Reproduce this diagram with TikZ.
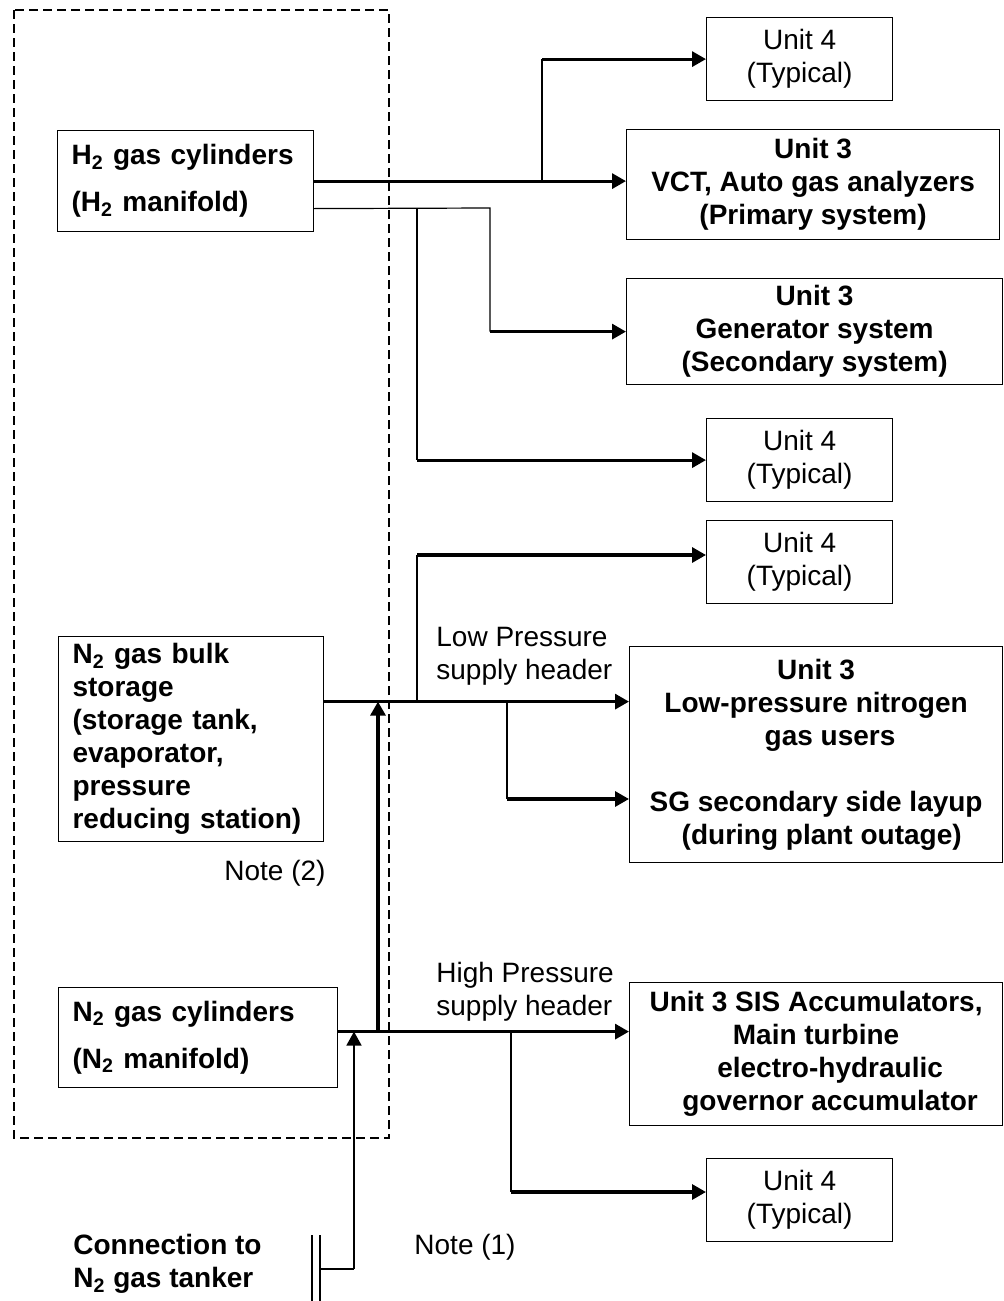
\documentclass[tikz,border=0pt]{standalone}
\usepackage{fontspec}
\setmainfont{Liberation Sans}
\usepackage{xcolor}
\usepackage{tikz}
\usetikzlibrary{arrows.meta}

\begin{document}
\begin{tikzpicture}[x=0.5pt,y=-0.5pt,
	txt/.style={font=\fontsize{14}{16.5}\selectfont},
	gasbox/.style={draw,line width=0.6pt,anchor=north west,align=left,inner xsep=7pt,inner ysep=1pt,font=\bfseries\fontsize{14}{16.5}\selectfont},
	unitbox/.style={draw,line width=0.6pt,anchor=north west,align=center,inner sep=0pt,font=\bfseries\fontsize{14}{16.5}\selectfont},
	typbox/.style={unitbox,minimum width=93pt,minimum height=41.5pt,font=\fontsize{14}{16.5}\selectfont},
	header/.style={anchor=west,align=left,inner sep=0pt,font=\fontsize{14}{16.5}\selectfont},
	pipe/.style={line width=1.6pt,-{Triangle[length=7pt,width=7.5pt]}},
	feed/.style={line width=0.9pt,-{Triangle[length=7pt,width=7.5pt]}},
	branch/.style={line width=0.6pt}]
					\useasboundingbox (0,0) rectangle (1003,1301);
					
					% Dashed frame round the gas sources
					\draw[line width=0.9pt,dash pattern=on 4.5pt off 2.5pt] (14,10) rectangle (389,1138);
					
					% Gas sources (IDs h2, bulk, ncyl)
					\node[gasbox,text width=114pt,minimum height=50.5pt] (h2) at (57,130) {H\textsubscript{2} gas cylinders\\[7pt](H\textsubscript{2} manifold)};
					\node[gasbox,text width=118.5pt,minimum height=102.5pt] (bulk) at (58,636) {N\textsubscript{2} gas bulk\\storage\\(storage tank,\\evaporator,\\pressure\\reducing station)};
					\node[gasbox,text width=125.5pt,minimum height=50pt] (ncyl) at (58,987) {N\textsubscript{2} gas cylinders\\[7pt](N\textsubscript{2} manifold)};
					
					% Now the users of Unit 3 and Unit 4
					\node[typbox] (u4a) at (706,17) {Unit 4\\(Typical)};
					\node[unitbox,minimum width=186.5pt,minimum height=55pt] (vct) at (626,129) {Unit 3\\VCT, Auto gas analyzers\\(Primary system)};
					\node[unitbox,minimum width=188pt,minimum height=53pt] (gen) at (626,278) {Unit 3\\Generator system\\(Secondary system)};
					\node[typbox] (u4b) at (706,418) {Unit 4\\(Typical)};
					\node[typbox] (u4c) at (706,520) {Unit 4\\(Typical)};
					\node[unitbox,minimum width=186.5pt,minimum height=108pt] (lp) at (629,646) {Unit 3\\Low-pressure nitrogen\\\hspace*{1em}gas users\\[16.5pt]SG secondary side layup\\\hspace*{0.4em}(during plant outage)};
					\node[unitbox,minimum width=186.5pt,minimum height=71.5pt] (hp) at (629,982) {Unit 3 SIS Accumulators,\\Main turbine\\\hspace*{1em}electro-hydraulic\\\hspace*{1em}governor accumulator};
					\node[typbox] (u4d) at (706,1158) {Unit 4\\(Typical)};
					
					% Labels and notes
					\node[header] (lplab) at (436,656) {Low Pressure\\supply header};
					\node[header] (hplab) at (436,992) {High Pressure\\supply header};
					\node[txt] (note2) at (275,873) {Note (2)};
					\node[txt] (note1) at (465,1247) {Note (1)};
					\node[header,font=\bfseries\fontsize{14}{16.5}\selectfont] (tank) at (73,1264) {Connection to\\N\textsubscript{2} gas tanker};
					
					% Junction points
					\coordinate (hout) at ([yshift=-13.75pt]h2.east);
					\coordinate (lpout) at ([yshift=18.75pt]bulk.east);
					\coordinate (hpout) at ([yshift=3pt]ncyl.east);
					\coordinate (hj1) at (542,182);
					\coordinate (hj2) at (490,208);
					\coordinate (hj3) at (417,208);
					\coordinate (lj1) at (417,701);
					\coordinate (lj2) at (417,555);
					\coordinate (lj3) at (507,701);
					\coordinate (lj4) at (507,799);
					\coordinate (rise) at (378,1031);
					\coordinate (hj4) at (511,1031);
					\coordinate (hj5) at (511,1192);
					\coordinate (tk1) at (312,1235);
					\coordinate (tk2) at (320,1235);
					\coordinate (tk3) at (320,1269);
					\coordinate (tk4) at (354,1269);
					
					% H2 headers
					\draw[pipe] (h2.east) -- (h2.east -| vct.west);
					\draw[branch] (hj1) -- (hj1 |- u4a.west);
					\draw[pipe] (hj1 |- u4a.west) -- (u4a.west);
					\draw[branch] (hout) -- (hj2) -- (hj2 |- gen.west);
					\draw[pipe] (hj2 |- gen.west) -- (gen.west);
					\draw[branch] (hj3) -- (hj3 |- u4b.west);
					\draw[pipe] (hj3 |- u4b.west) -- (u4b.west);
					
					% N2 low pressure header
					\draw[pipe] (lpout) -- (lpout -| lp.west);
					\draw[branch] (lj1) -- (lj2);
					\draw[pipe] (lj2) -- (lj2 -| u4c.west);
					\draw[branch] (lj3) -- (lj4);
					\draw[pipe] (lj4) -- (lj4 -| lp.west);
					
					% N2 high pressure header
					\draw[pipe] (hpout) -- (hpout -| hp.west);
					\draw[pipe] (rise) -- (rise |- lpout);
					\draw[branch] (hj4) -- (hj5);
					\draw[pipe] (hj5) -- (hj5 -| u4d.west);
					
					% Tanker connection
					\draw[branch] (tk1) -- (tk1 |- 0,1301);
					\draw[branch] (tk2) -- (tk2 |- 0,1301);
					\draw[branch] (tk3) -- (tk4);
					\draw[feed] (tk4) -- (tk4 |- hpout);
				\end{tikzpicture}
\end{document}
